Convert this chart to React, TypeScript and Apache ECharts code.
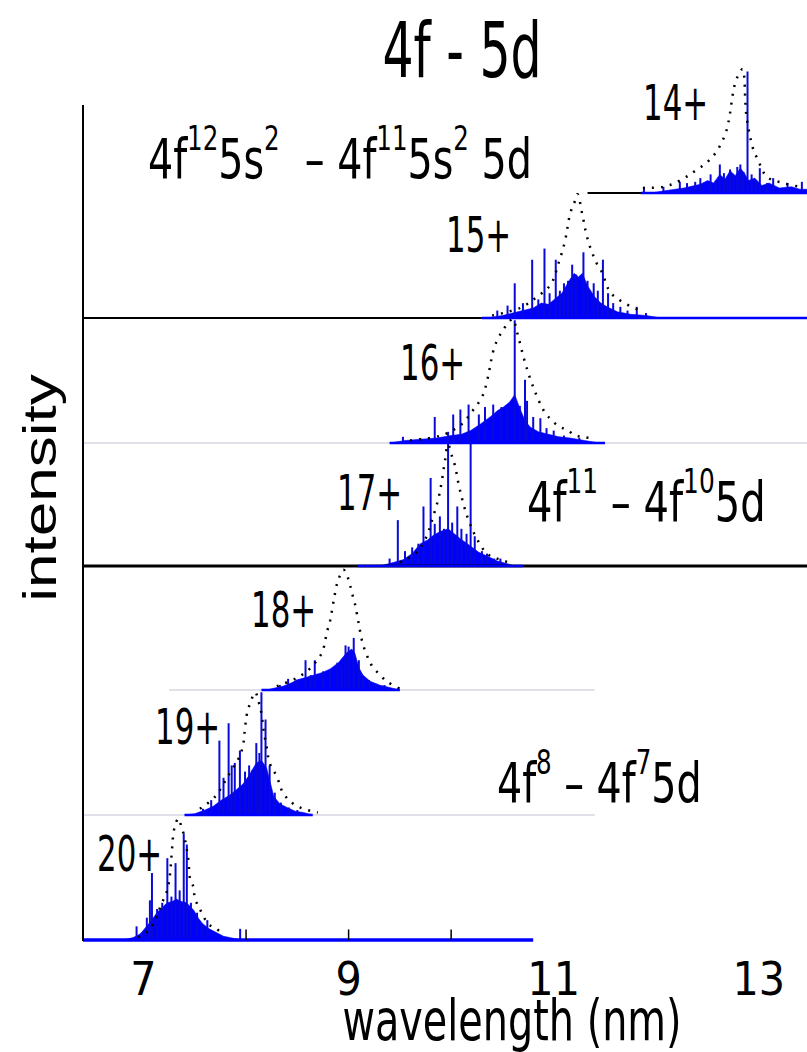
import React, { useEffect, useRef } from 'react';
import * as echarts from 'echarts';

// ---------------- data ----------------
const ions = ['14+', '15+', '16+', '17+', '18+', '19+', '20+'];
const xTickLabels = [7, 9, 11, 13];
const minorTicks = [8, 9, 10];

// stick lines [wavelength nm, relative intensity]
const sticks14 = [[11.88,0.05],[12.07,0.05],[12.23,0.09],[12.30,0.08],[12.38,0.09],[12.43,0.12],[12.53,0.15],[12.58,0.10],[12.62,0.23],[12.66,0.16],[12.69,0.12],[12.72,0.19],[12.75,0.15],[12.79,0.21],[12.82,0.23],[12.85,0.17],[12.89,0.98],[12.93,0.15],[12.97,0.10],[13.01,0.20],[13.08,0.08],[13.14,0.12],[13.28,0.08],[13.42,0.09]];
const sticks15 = [[10.45,0.06],[10.55,0.10],[10.62,0.28],[10.70,0.12],[10.79,0.47],[10.85,0.15],[10.91,0.56],[10.96,0.20],[11.02,0.47],[11.06,0.22],[11.10,0.28],[11.14,0.30],[11.18,0.43],[11.22,0.35],[11.29,0.53],[11.33,0.30],[11.39,0.28],[11.43,0.22],[11.48,0.47],[11.53,0.20],[11.58,0.12],[11.65,0.09],[11.72,0.06],[11.81,0.09],[11.90,0.04]];
const sticks16 = [[9.53,0.05],[9.70,0.04],[9.84,0.21],[9.97,0.09],[10.02,0.23],[10.09,0.27],[10.17,0.31],[10.27,0.23],[10.33,0.29],[10.41,0.31],[10.49,0.29],[10.55,0.30],[10.62,0.99],[10.67,0.30],[10.72,0.51],[10.74,0.34],[10.80,0.21],[10.87,0.20],[10.93,0.12],[11.00,0.10],[11.10,0.06],[11.25,0.04]];
const sticks17 = [[9.40,0.06],[9.48,0.37],[9.55,0.12],[9.62,0.15],[9.68,0.18],[9.73,0.48],[9.80,0.71],[9.84,0.34],[9.89,0.40],[9.93,0.30],[9.97,0.99],[10.01,0.35],[10.06,0.48],[10.10,0.30],[10.15,0.26],[10.19,0.99],[10.23,0.24],[10.30,0.12],[10.35,0.10],[10.42,0.06],[10.48,0.06]];
const sticks18 = [[8.33,0.04],[8.41,0.09],[8.50,0.08],[8.58,0.24],[8.63,0.12],[8.67,0.24],[8.75,0.15],[8.82,0.16],[8.89,0.22],[8.93,0.20],[8.97,0.36],[9.00,0.35],[9.05,0.42],[9.10,0.24],[9.14,0.11],[9.20,0.08],[9.27,0.05],[9.35,0.04]];
const sticks19 = [[7.58,0.05],[7.66,0.12],[7.74,0.60],[7.78,0.30],[7.83,0.74],[7.86,0.40],[7.89,0.42],[7.94,0.52],[7.99,0.35],[8.03,0.40],[8.06,0.36],[8.10,0.58],[8.13,0.50],[8.15,0.99],[8.19,0.77],[8.23,0.40],[8.28,0.18],[8.34,0.10],[8.42,0.06],[8.50,0.04]];
const sticks20 = [[6.93,0.11],[6.98,0.06],[7.03,0.18],[7.06,0.32],[7.08,0.54],[7.13,0.25],[7.18,0.30],[7.23,0.66],[7.27,0.35],[7.31,0.62],[7.35,0.40],[7.39,0.86],[7.42,0.77],[7.46,0.30],[7.52,0.22],[7.57,0.12],[7.62,0.16],[7.70,0.06],[7.94,0.09]];

// dense unresolved line mass (filled)
const mass14 = [[11.95,0],[12.10,0.02],[12.27,0.04],[12.43,0.07],[12.50,0.10],[12.56,0.08],[12.62,0.15],[12.67,0.11],[12.72,0.18],[12.77,0.14],[12.82,0.20],[12.86,0.16],[12.90,0.10],[12.96,0.12],[13.03,0.06],[13.10,0.08],[13.20,0.04],[13.32,0.05],[13.40,0.03],[13.47,0.03]];
const mass15 = [[10.35,0],[10.50,0.02],[10.60,0.04],[10.70,0.06],[10.80,0.08],[10.88,0.12],[10.95,0.11],[11.02,0.16],[11.08,0.20],[11.15,0.30],[11.20,0.36],[11.24,0.33],[11.28,0.36],[11.33,0.26],[11.40,0.17],[11.46,0.12],[11.52,0.09],[11.62,0.05],[11.75,0.03],[11.90,0.02],[12.05,0]];
const mass16 = [[9.40,0],[9.55,0.02],[9.70,0.03],[9.86,0.04],[10.00,0.06],[10.10,0.07],[10.19,0.10],[10.28,0.15],[10.38,0.21],[10.45,0.26],[10.51,0.29],[10.57,0.33],[10.62,0.39],[10.66,0.30],[10.72,0.18],[10.77,0.13],[10.85,0.09],[10.95,0.07],[11.05,0.05],[11.16,0.04],[11.30,0.02],[11.45,0]];
const mass17 = [[9.30,0],[9.40,0.02],[9.53,0.05],[9.62,0.10],[9.70,0.18],[9.77,0.21],[9.83,0.25],[9.90,0.28],[9.97,0.30],[10.03,0.26],[10.09,0.22],[10.19,0.16],[10.27,0.11],[10.35,0.08],[10.45,0.04],[10.54,0.02],[10.62,0]];
const mass18 = [[8.20,0],[8.30,0.02],[8.36,0.03],[8.45,0.06],[8.49,0.08],[8.58,0.10],[8.66,0.12],[8.74,0.14],[8.82,0.17],[8.90,0.22],[8.98,0.30],[9.03,0.33],[9.06,0.30],[9.10,0.18],[9.14,0.12],[9.21,0.07],[9.30,0.04],[9.40,0.02],[9.50,0]];
const mass19 = [[7.40,0],[7.50,0.01],[7.60,0.04],[7.68,0.07],[7.76,0.12],[7.84,0.16],[7.90,0.20],[7.97,0.25],[8.03,0.32],[8.10,0.42],[8.15,0.44],[8.20,0.38],[8.24,0.25],[8.27,0.15],[8.33,0.09],[8.40,0.06],[8.48,0.03],[8.56,0.02],[8.65,0]];
const mass20 = [[6.80,0],[6.90,0.02],[6.97,0.05],[7.03,0.11],[7.08,0.16],[7.13,0.22],[7.18,0.26],[7.23,0.30],[7.28,0.31],[7.32,0.33],[7.37,0.31],[7.42,0.30],[7.49,0.24],[7.54,0.17],[7.58,0.13],[7.64,0.09],[7.71,0.06],[7.78,0.03],[7.84,0.02],[7.95,0]];

// convolved (dotted) envelopes
const env14 = [[11.87,0.04],[12.07,0.05],[12.23,0.10],[12.40,0.19],[12.50,0.25],[12.60,0.35],[12.69,0.52],[12.77,0.89],[12.84,1.0],[12.88,0.62],[12.94,0.37],[12.99,0.27],[13.08,0.13],[13.24,0.08],[13.40,0.05]];
const env15 = [[10.40,0.02],[10.67,0.08],[10.82,0.16],[10.97,0.27],[11.05,0.45],[11.11,0.62],[11.16,0.84],[11.21,0.95],[11.23,1.0],[11.28,0.83],[11.32,0.67],[11.36,0.56],[11.42,0.44],[11.47,0.37],[11.55,0.21],[11.67,0.13],[11.84,0.06]];
const env16 = [[9.60,0.02],[9.90,0.06],[10.10,0.15],[10.20,0.25],[10.30,0.37],[10.35,0.50],[10.41,0.74],[10.45,0.83],[10.53,0.94],[10.60,1.0],[10.64,0.90],[10.67,0.81],[10.71,0.68],[10.77,0.52],[10.85,0.35],[10.92,0.24],[11.01,0.16],[11.06,0.13],[11.14,0.10],[11.21,0.06],[11.29,0.05],[11.40,0.03]];
const env17 = [[9.50,0.03],[9.65,0.10],[9.75,0.22],[9.84,0.44],[9.88,0.56],[9.91,0.69],[9.94,0.85],[9.97,0.98],[10.01,0.88],[10.04,0.80],[10.07,0.67],[10.12,0.50],[10.17,0.37],[10.25,0.22],[10.35,0.10],[10.48,0.05],[10.61,0.02]];
const env18 = [[8.30,0.03],[8.50,0.10],[8.62,0.17],[8.71,0.26],[8.75,0.32],[8.79,0.47],[8.82,0.56],[8.85,0.70],[8.88,0.83],[8.90,0.89],[8.95,0.97],[9.00,0.89],[9.03,0.79],[9.06,0.70],[9.08,0.62],[9.13,0.40],[9.16,0.32],[9.23,0.19],[9.31,0.12],[9.37,0.07],[9.50,0.01]];
const env19 = [[7.55,0.05],[7.70,0.15],[7.85,0.35],[7.93,0.46],[7.97,0.56],[7.99,0.70],[8.01,0.82],[8.04,0.90],[8.09,0.99],[8.12,0.92],[8.15,0.82],[8.17,0.69],[8.20,0.55],[8.23,0.42],[8.30,0.31],[8.36,0.18],[8.46,0.09],[8.56,0.05],[8.70,0.02]];
const env20 = [[6.95,0.02],[7.05,0.08],[7.13,0.19],[7.16,0.26],[7.24,0.43],[7.28,0.75],[7.29,0.85],[7.31,0.93],[7.34,0.98],[7.37,0.91],[7.40,0.83],[7.44,0.63],[7.45,0.51],[7.49,0.42],[7.50,0.34],[7.58,0.20],[7.63,0.13],[7.71,0.09],[7.79,0.04]];

// baseline segments per panel [from, to] in nm
const baseBlack = [[[11.33, 13.47]], [[6.41, 10.30]], [], [[6.41, 13.47]], [], [], []];
const baseBlue = [[[11.85, 13.47]], [[10.30, 13.47]], [[9.40, 11.50]], [[9.09, 10.70]], [[8.15, 9.50]], [[7.40, 8.65]], [[6.41, 10.80]]];
const baseFaint = [[], [], [[6.41, 13.47]], [], [[7.25, 11.40]], [[6.41, 11.40]], []];

const sticks = [sticks14, sticks15, sticks16, sticks17, sticks18, sticks19, sticks20];
const masses = [mass14, mass15, mass16, mass17, mass18, mass19, mass20];
const envelopes = [env14, env15, env16, env17, env18, env19, env20];

// ---------------- layout ----------------
const W = 807;
const H = 1052;
const X_MIN = 6.41;
const X_MAX = 13.47;
const LEFT = 83;
const PANEL_H = 124;
const baselinesPx = [193, 318, 443, 566, 690, 815, 940];
const NARROW = "'Liberation Sans Narrow', 'DejaVu Sans Condensed', 'Liberation Sans', sans-serif";
const BLUE = '#0000ff';
const STICK = '#0a0ad8';

const ionLabelPos = [[643, 102], [446, 234], [400, 362], [337, 492], [251, 609], [155, 726], [97, 853]];

export default function App() {
  const ref = useRef<HTMLDivElement>(null);
  useEffect(() => {
    if (!ref.current) return;
    const chart = echarts.init(ref.current, undefined, { renderer: 'svg' });
    const grids: any[] = [];
    const xAxes: any[] = [];
    const yAxes: any[] = [];
    const series: any[] = [];
    const last = ions.length - 1;
    ions.forEach((_, i) => {
      grids.push({ left: LEFT, top: baselinesPx[i] - PANEL_H, width: W - LEFT, height: PANEL_H });
      xAxes.push({
        type: 'value', gridIndex: i, min: X_MIN, max: X_MAX, splitNumber: 7,
        show: i === last,
        axisLine: { show: false }, axisTick: { show: false }, splitLine: { show: false },
        axisLabel: {
          show: i === last, margin: 16, color: '#000', fontSize: 46, fontFamily: NARROW,
          showMinLabel: false, showMaxLabel: false,
          formatter: (v: number) => (xTickLabels.includes(Math.round(v * 1000) / 1000) ? String(Math.round(v)) : ''),
        },
      });
      yAxes.push({ type: 'value', gridIndex: i, min: 0, max: 1, show: false });
      series.push({
        type: 'line', xAxisIndex: i, yAxisIndex: i, data: masses[i], symbol: 'none', silent: true,
        lineStyle: { width: 0.6, color: BLUE }, areaStyle: { color: BLUE, opacity: 1 }, z: 2,
      });
      series.push({
        type: 'bar', xAxisIndex: i, yAxisIndex: i, data: sticks[i], barWidth: 2, barGap: '-100%', silent: true,
        itemStyle: { color: STICK }, z: 3,
      });
      series.push({
        type: 'line', xAxisIndex: i, yAxisIndex: i, data: envelopes[i], symbol: 'none', smooth: 0.35, silent: true,
        lineStyle: { color: '#000', width: 2.5, type: [2, 7] }, z: 4,
      });
      baseFaint[i].forEach((seg) => series.push({
        type: 'line', xAxisIndex: i, yAxisIndex: i, data: [[seg[0], 0], [seg[1], 0]], symbol: 'none', clip: false, silent: true,
        lineStyle: { color: '#d6d6e4', width: 1.5 }, z: 1,
      }));
      baseBlack[i].forEach((seg) => series.push({
        type: 'line', xAxisIndex: i, yAxisIndex: i, data: [[seg[0], 0], [seg[1], 0]], symbol: 'none', clip: false, silent: true,
        lineStyle: { color: '#000', width: i === 3 ? 3 : 2.2 }, z: 5,
      }));
      baseBlue[i].forEach((seg) => series.push({
        type: 'line', xAxisIndex: i, yAxisIndex: i, data: [[seg[0], 0], [seg[1], 0]], symbol: 'none', clip: false, silent: true,
        lineStyle: { color: BLUE, width: i === last ? 3.5 : 2.5 }, z: 6,
      }));
    });
    series.push({
      type: 'bar', xAxisIndex: last, yAxisIndex: last, data: minorTicks.map((v) => [v, 0.085]), barWidth: 1.5, barGap: '-100%',
      silent: true, itemStyle: { color: '#000' }, z: 7,
    });

    const supRich = (size: number) => ({
      n: { fontSize: size, fontFamily: NARROW, color: '#000', lineHeight: Math.round(size * 1.2), verticalAlign: 'bottom' },
      s: { fontSize: Math.round(size * 0.62), fontFamily: NARROW, color: '#000', verticalAlign: 'top' },
    });

    const graphic: any[] = [
      { type: 'line', shape: { x1: LEFT, y1: 105, x2: LEFT, y2: 941 }, style: { stroke: '#000', lineWidth: 2 }, z: 100 },
      {
        type: 'text', x: 462, y: 50, scaleX: 0.85, scaleY: 1.2, z: 100,
        style: { text: '4f - 5d', fontSize: 64, fontFamily: NARROW, fill: '#000', textAlign: 'center', textVerticalAlign: 'middle' },
      },
      {
        type: 'text', x: 40, y: 488, rotation: Math.PI / 2, scaleX: 1.35, z: 100,
        style: { text: 'intensity', fontSize: 46, fontFamily: "'Liberation Sans', sans-serif", fill: '#000', textAlign: 'center', textVerticalAlign: 'middle' },
      },
      {
        type: 'text', x: 512, y: 1020, scaleX: 0.85, scaleY: 1.1, z: 100,
        style: { text: 'wavelength (nm)', fontSize: 52, fontFamily: NARROW, fill: '#000', textAlign: 'center', textVerticalAlign: 'middle' },
      },
      {
        type: 'text', x: 148, y: 154, scaleX: 0.88, scaleY: 1.1, z: 100,
        style: { text: '{n|4f}{s|12}{n|5s}{s|2}{n|  – 4f}{s|11}{n|5s}{s|2}{n| 5d}', rich: supRich(50), textAlign: 'left', textVerticalAlign: 'middle' },
      },
      {
        type: 'text', x: 527, y: 497, scaleX: 0.89, scaleY: 1.1, z: 100,
        style: { text: '{n|4f}{s|11}{n| – 4f}{s|10}{n|5d}', rich: supRich(50), textAlign: 'left', textVerticalAlign: 'middle' },
      },
      {
        type: 'text', x: 497, y: 778, scaleX: 0.88, scaleY: 1.1, z: 100,
        style: { text: '{n|4f}{s|8}{n| – 4f}{s|7}{n|5d}', rich: supRich(50), textAlign: 'left', textVerticalAlign: 'middle' },
      },
    ];
    ions.forEach((ion, i) => {
      graphic.push({
        type: 'text', x: ionLabelPos[i][0], y: ionLabelPos[i][1], scaleX: 0.78, scaleY: 1.15, z: 100,
        style: { text: ion, fontSize: 44, fontFamily: NARROW, fill: '#000', textAlign: 'left', textVerticalAlign: 'middle' },
      });
    });

    chart.setOption({
      animation: false,
      backgroundColor: '#fff',
      grid: grids,
      xAxis: xAxes,
      yAxis: yAxes,
      series,
      graphic,
    });
    return () => chart.dispose();
  }, []);
  return <div ref={ref} style={{ position: 'absolute', left: 0, top: 0, width: W, height: H }} />;
}
